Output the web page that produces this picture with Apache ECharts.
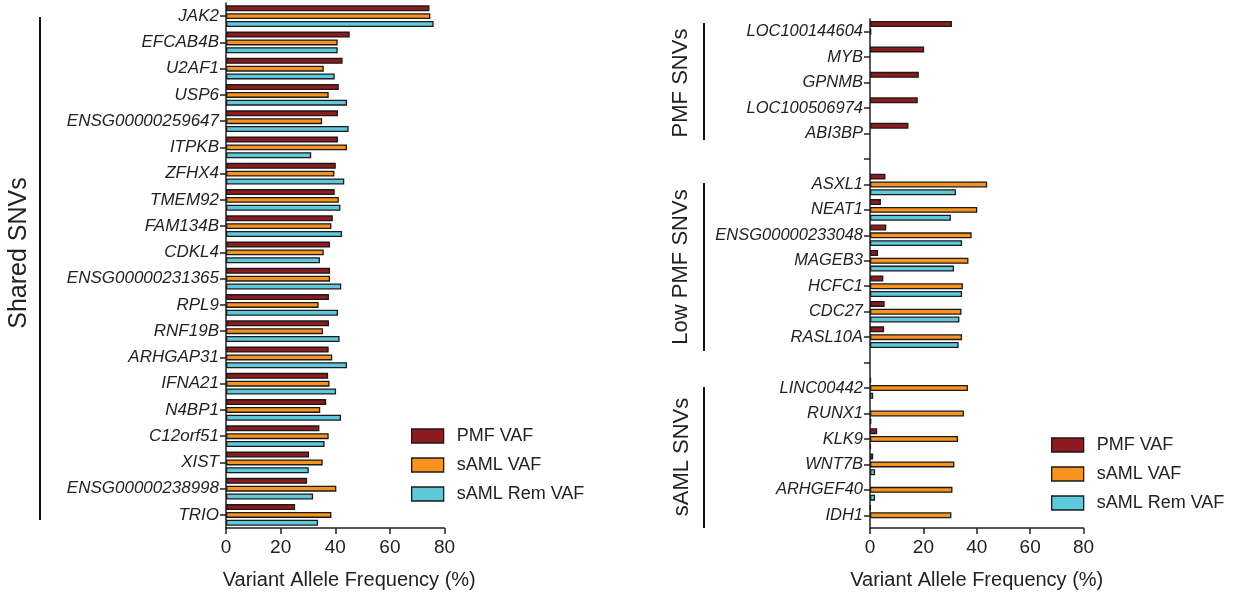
<!DOCTYPE html>
<html>
<head>
<meta charset="utf-8">
<script src="https://cdn.jsdelivr.net/npm/echarts@6/dist/echarts.min.js"></script>
<style>html,body{margin:0;padding:0;background:#fff}#c{width:1239px;height:595px}</style>
</head>
<body>
<div id="c"></div>
<script>
var sharedGenes = ['JAK2','EFCAB4B','U2AF1','USP6','ENSG00000259647','ITPKB','ZFHX4','TMEM92','FAM134B','CDKL4','ENSG00000231365','RPL9','RNF19B','ARHGAP31','IFNA21','N4BP1','C12orf51','XIST','ENSG00000238998','TRIO'];
var sharedPMF  = [74.5, 45.3, 42.7, 41.3, 41.0, 41.0, 40.2, 39.8, 39.1, 38.1, 38.1, 37.7, 37.7, 37.6, 37.4, 36.7, 34.2, 30.4, 29.7, 25.3];
var sharedSAML = [74.8, 40.9, 35.8, 37.6, 35.2, 44.3, 39.7, 41.3, 38.6, 35.8, 38.1, 33.9, 35.5, 38.9, 37.9, 34.5, 37.6, 35.4, 40.4, 38.6];
var sharedRem  = [76.0, 40.9, 39.8, 44.3, 44.9, 31.2, 43.3, 41.9, 42.5, 34.4, 42.2, 41.0, 41.6, 44.3, 40.3, 42.1, 36.1, 30.3, 31.9, 33.7];

var rightGenes = ['LOC100144604','MYB','GPNMB','LOC100506974','ABI3BP','','ASXL1','NEAT1','ENSG00000233048','MAGEB3','HCFC1','CDC27','RASL10A',' ','LINC00442','RUNX1','KLK9','WNT7B','ARHGEF40','IDH1'];
var rightPMF  = [30.7, 20.3, 18.3, 17.9, 14.4, null, 5.8, 4.1, 6.1, 3.0, 5.0, 5.5, 5.3, null, 0.4, null, 2.7, 1.2, null, 0.3];
var rightSAML = [0.5, null, null, null, null, null, 43.9, 40.2, 38.1, 36.9, 34.8, 34.3, 34.5, null, 36.7, 35.2, 33.0, 31.6, 30.9, 30.5];
var rightRem  = [null, null, null, null, null, null, 32.2, 30.3, 34.5, 31.5, 34.5, 33.5, 33.2, null, 1.2, 0.5, 0.3, 1.9, 1.9, null];

var seriesNames = ['PMF VAF', 'sAML VAF', 'sAML Rem VAF'];
var xTicks = [0, 20, 40, 60, 80];
var groupLabels = ['Shared SNVs', 'PMF SNVs', 'Low PMF SNVs', 'sAML SNVs'];

var colors = ['#8e1b1f', '#f7931e', '#5fc9dc'];
var FONT = '"Liberation Sans", Arial, sans-serif';
var TXT = '#222';

var chart = echarts.init(document.getElementById('c'), null, {renderer: 'canvas'});

function xAxis(gi, pad) {
  return {
    type: 'value', gridIndex: gi, min: 0, max: 80, interval: 20,
    axisLine: {show: true, lineStyle: {color: '#222', width: 1.5}},
    axisTick: {show: true, length: 6, lineStyle: {color: '#222', width: 1.5}},
    splitLine: {show: false},
    axisLabel: {fontFamily: FONT, fontSize: 19, color: TXT, margin: 10,
      formatter: function (v) { return xTicks.indexOf(v) >= 0 ? String(v) : ''; }},
    name: 'Variant Allele Frequency (%)', nameLocation: 'middle', nameGap: 42,
    nameTextStyle: {fontFamily: FONT, fontSize: 20, color: TXT, padding: [0, 0, 0, pad]}
  };
}
function yAxis(gi, cats, fs) {
  return {
    type: 'category', gridIndex: gi, data: cats, inverse: true,
    axisLine: {show: true, lineStyle: {color: '#222', width: 1.5}},
    axisTick: {show: true, alignWithLabel: true, length: 6, lineStyle: {color: '#222', width: 1.5}},
    axisLabel: {fontFamily: FONT, fontSize: fs, fontStyle: 'italic', color: TXT, margin: 7, interval: 0}
  };
}
function bars(gi, name, data, ci) {
  return {
    type: 'bar', name: name, xAxisIndex: gi, yAxisIndex: gi, data: data,
    barWidth: 6, barGap: '30%',
    itemStyle: {color: colors[ci], borderColor: '#1a1a1a', borderWidth: 1.3},
    emphasis: {disabled: true}, animation: false
  };
}
function legend(left, top) {
  return {
    data: seriesNames, orient: 'vertical', left: left, top: top,
    itemWidth: 32, itemHeight: 14, itemGap: 11, icon: 'rect',
    textStyle: {fontFamily: FONT, fontSize: 18, color: TXT, padding: [0, 0, 0, 8]},
    itemStyle: {borderColor: '#1a1a1a', borderWidth: 1.3}
  };
}

var gLine = {stroke: '#111', lineWidth: 2};
function vline(x, y1, y2) {
  return {type: 'line', shape: {x1: x, y1: y1, x2: x, y2: y2}, style: gLine, silent: true};
}
function vtext(x, y, t, fs) {
  return {type: 'text', x: x, y: y, rotation: Math.PI / 2,
    style: {text: t, fontFamily: FONT, fontSize: fs, fill: TXT, align: 'center', verticalAlign: 'middle'}, silent: true};
}

chart.setOption({
  animation: false,
  backgroundColor: '#fff',
  grid: [
    {left: 226, top: 3, width: 218.5, height: 526.5, containLabel: false},
    {left: 870, top: 19, width: 213.5, height: 511, containLabel: false}
  ],
  xAxis: [xAxis(0, 28), xAxis(1, 0)],
  yAxis: [yAxis(0, sharedGenes, 17), yAxis(1, rightGenes, 16.5)],
  legend: [legend(406, 422), legend(1046, 431)],
  series: [
    bars(0, seriesNames[0], sharedPMF, 0),
    bars(0, seriesNames[1], sharedSAML, 1),
    bars(0, seriesNames[2], sharedRem, 2),
    bars(1, seriesNames[0], rightPMF, 0),
    bars(1, seriesNames[1], rightSAML, 1),
    bars(1, seriesNames[2], rightRem, 2)
  ],
  graphic: [
    vline(40, 17, 520),
    vtext(19, 253, groupLabels[0], 25),
    vline(704, 23, 140),
    vtext(681, 83, groupLabels[1], 22),
    vline(704, 183, 351),
    vtext(681, 267, groupLabels[2], 22),
    vline(704, 387, 528),
    vtext(682, 457, groupLabels[3], 22)
  ]
});
</script>
</body>
</html>
